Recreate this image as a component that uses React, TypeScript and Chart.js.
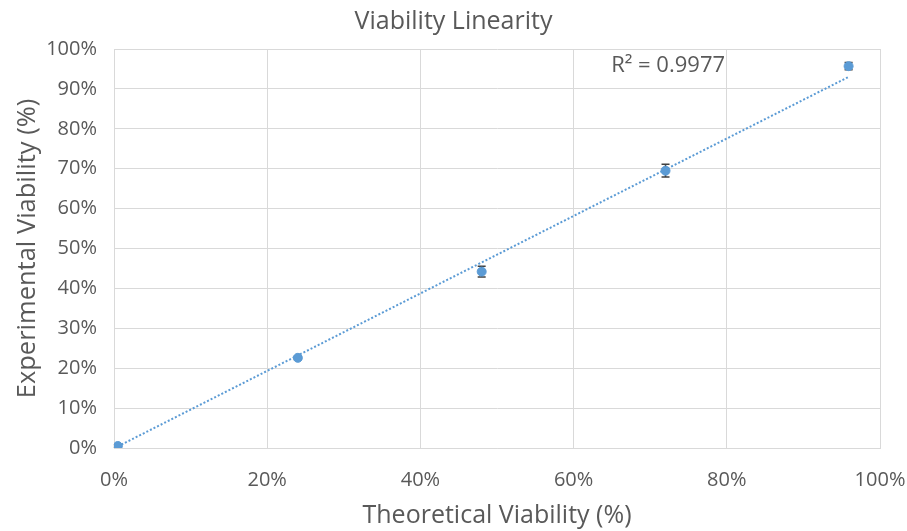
import React, { useEffect, useRef } from "react";
import { Chart, registerables } from "chart.js";

Chart.register(...registerables);

const theoretical = [0.5, 24, 48, 72, 95.9];
const experimental = [0.5, 22.6, 44.2, 69.5, 95.7];
const errors = [0.3, 0.4, 1.35, 1.6, 0.9];
const trendX = [0.5, 95.9];
const trendY = [0.4, 93.0];
const r2Label = "R² = 0.9977";
const r2Pos = { x: 64.9, y: 95.7 };

const FONT = "'Open Sans', 'Noto Sans', sans-serif";
const TEXT = "#595959";
const GRID = "#d9d9d9";
const BLUE = "#5b9bd5";

const errorBars = {
  id: "errorBars",
  beforeDatasetDraw(chart: any, args: any) {
    if (args.index !== 0) return;
    const { ctx, scales } = chart;
    const xs = scales.x;
    const ys = scales.y;
    ctx.save();
    ctx.strokeStyle = "#404040";
    ctx.lineWidth = 1.5;
    theoretical.forEach((tx, i) => {
      const e = errors[i];
      const px = xs.getPixelForValue(tx);
      const top = ys.getPixelForValue(experimental[i] + e);
      const bot = ys.getPixelForValue(experimental[i] - e);
      ctx.beginPath();
      ctx.moveTo(px, top);
      ctx.lineTo(px, bot);
      ctx.moveTo(px - 4, top);
      ctx.lineTo(px + 4, top);
      ctx.moveTo(px - 4, bot);
      ctx.lineTo(px + 4, bot);
      ctx.stroke();
    });
    ctx.restore();
  },
};

const r2Plugin = {
  id: "r2Label",
  afterDatasetsDraw(chart: any) {
    const { ctx, scales } = chart;
    ctx.save();
    ctx.font = `22px ${FONT}`;
    ctx.fillStyle = TEXT;
    ctx.textAlign = "left";
    ctx.textBaseline = "middle";
    ctx.fillText(r2Label, scales.x.getPixelForValue(r2Pos.x), scales.y.getPixelForValue(r2Pos.y));
    ctx.restore();
  },
};

export default function App() {
  const ref = useRef<HTMLCanvasElement>(null);
  useEffect(() => {
    if (!ref.current) return;
    const chart = new Chart(ref.current, {
      type: "scatter",
      data: {
        datasets: [
          {
            label: "Experimental",
            data: theoretical.map((x, i) => ({ x, y: experimental[i] })),
            backgroundColor: BLUE,
            borderColor: BLUE,
            pointRadius: 4.5,
            pointHoverRadius: 4.5,
          },
          {
            label: "Linear",
            type: "line",
            data: trendX.map((x, i) => ({ x, y: trendY[i] })),
            borderColor: BLUE,
            borderWidth: 2,
            borderDash: [2, 2],
            pointRadius: 0,
            fill: false,
          } as any,
        ],
      },
      options: {
        animation: false,
        responsive: false,
        layout: { padding: { top: 0, right: 0, bottom: 0, left: 0 } },
        plugins: {
          legend: { display: false },
          tooltip: { enabled: false },
          title: {
            display: true,
            text: "Viability Linearity",
            color: TEXT,
            font: { family: FONT, size: 25, weight: "normal" },
            padding: { top: 7, bottom: 12 },
          },
        },
        scales: {
          x: {
            type: "linear",
            min: 0,
            max: 100,
            ticks: {
              stepSize: 20,
              color: TEXT,
              font: { family: FONT, size: 20 },
              padding: 20,
              maxRotation: 0,
              callback: (v: any) => v + "%",
            },
            grid: { color: GRID, drawTicks: false },
            border: { color: GRID },
            title: {
              display: true,
              text: "Theoretical Viability (%)",
              color: TEXT,
              font: { family: FONT, size: 25 },
              padding: { top: 0, bottom: 0 },
            },
            afterFit: (s: any) => {
              s.height = 83;
              s.paddingRight = 27;
              s.paddingLeft = 0;
            },
          },
          y: {
            type: "linear",
            min: 0,
            max: 100,
            ticks: {
              stepSize: 10,
              color: TEXT,
              font: { family: FONT, size: 20 },
              padding: 17,
              callback: (v: any) => v + "%",
            },
            grid: { color: GRID, drawTicks: false },
            border: { color: GRID },
            title: {
              display: true,
              text: "Experimental Viability (%)",
              color: TEXT,
              font: { family: FONT, size: 25.5 },
              padding: { top: 12.5, bottom: 0 },
            },
            afterFit: (s: any) => {
              s.width = 114;
              s.paddingTop = 0;
              s.paddingBottom = 0;
            },
          },
        },
      },
      plugins: [errorBars, r2Plugin],
    });
    return () => chart.destroy();
  }, []);
  return (
    <div style={{ position: "fixed", left: 0, top: 0, width: 907, height: 531, background: "#fff" }}>
      <canvas ref={ref} width={907} height={531} style={{ display: "block" }} />
    </div>
  );
}
